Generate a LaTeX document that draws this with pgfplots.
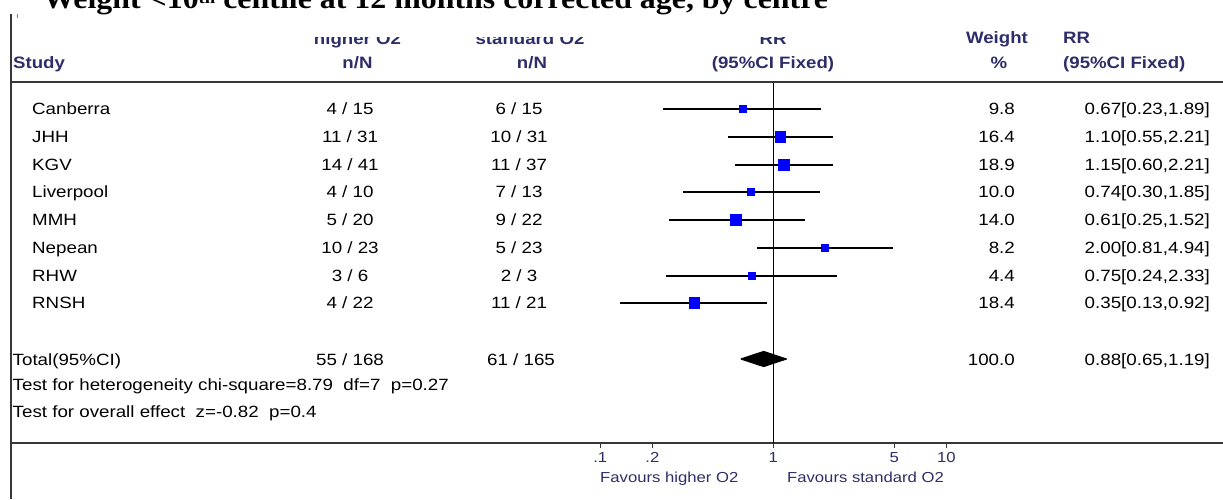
\documentclass[border=0pt]{standalone}
\usepackage{pgfplots}
\pgfplotsset{compat=1.18}
\usepackage{pgfplotstable}
\usepackage{fontspec}
\setmainfont{Liberation Sans}[FakeStretch=1.15]
\newfontfamily\hdrfont{Liberation Sans}[FakeStretch=1.13]
\newfontfamily\titlefont{Liberation Serif}[FakeStretch=1.1]
\definecolor{navy}{RGB}{45,45,105}
\definecolor{framegray}{RGB}{55,55,55}
\definecolor{boxblue}{RGB}{0,0,255}

% study estimates: y = 499 - pixel row
\pgfplotstableread{
name      lo    rr    hi    y    ms
Canberra  0.23  0.67  1.89  390  3.5
JHH       0.55  1.10  2.21  362  5.4
KGV       0.60  1.15  2.21  334  5.4
Liverpool 0.30  0.74  1.85  307  3.6
MMH       0.25  0.61  1.52  279  5.2
Nepean    0.81  2.00  4.94  251  3.4
RHW       0.24  0.75  2.33  223  3.4
RNSH      0.13  0.35  0.92  196  5.2
}\studydata

\pgfplotstableread{
x     y
0.23  390
1.89  390
nan   nan
0.55  362
2.21  362
nan   nan
0.60  334
2.21  334
nan   nan
0.30  307
1.85  307
nan   nan
0.25  279
1.52  279
nan   nan
0.81  251
4.94  251
nan   nan
0.24  223
2.33  223
nan   nan
0.13  196
0.92  196
}\cidata

\begin{document}
\begin{tikzpicture}[x=1pt,y=1pt]
\begin{axis}[
  at={(11pt,56pt)}, anchor=south west,
  scale only axis, width=1212pt, height=443pt,
  xmode=log, log basis x=10,
  xmin=3.924e-5, xmax=397.6,
  ymin=56, ymax=499,
  axis x line=bottom, axis y line=none,
  x axis line style={-, draw=framegray, line width=1.5pt},
  xtick={0.1,0.2,1,5,10}, xticklabels={.1,.2,1,5,10},
  xminorticks=false,
  tick align=outside, major tick length=5pt,
  x tick style={draw=framegray, line width=0.8pt},
  xticklabel style={font=\fontsize{14.5}{16}\selectfont, text=navy, anchor=base, yshift=-14pt, inner sep=0pt},
  clip=false,
]
% reference line at RR = 1
\addplot[black, line width=1.5pt] coordinates {(1,417) (1,56)};
% confidence intervals
\addplot[black, line width=1.8pt, unbounded coords=jump] table[x=x, y=y] {\cidata};
% point estimates
\addplot[scatter, only marks, mark=square*,
  scatter/use mapped color={draw=boxblue, fill=boxblue},
  visualization depends on={\thisrow{ms} \as \msz},
  scatter/@pre marker code/.append style={/tikz/mark size=\msz},
  mark options={line width=0pt}]
  table[x=rr, y=y] {\studydata};
% pooled estimate
\addplot[fill=black, draw=black, line width=1.2pt, line join=round] coordinates {(0.65,140) (0.88,147.5) (1.19,140) (0.88,132.5) (0.65,140)};
\end{axis}

% frame
\draw[framegray, line width=1.5pt] (11,0) -- (11,485);
\draw[gray, line width=0.8pt] (17,485) -- (17,481);
\draw[framegray, line width=2pt] (11,417) -- (1223,417);

% header
\begin{scope}[every node/.style={inner sep=0pt, text=navy, font=\hdrfont\bfseries\fontsize{16.5}{18}\selectfont}]
\node[anchor=base west] at (13,430) {Study};
\node[anchor=base] at (357.5,454) {higher O2};
\node[anchor=base] at (357.5,430) {n/N};
\node[anchor=base] at (530,454) {standard O2};
\node[anchor=base] at (532,430) {n/N};
\node[anchor=base] at (773,454) {RR};
\node[anchor=base] at (773,430) {(95\%CI Fixed)};
\node[anchor=base] at (997,455) {Weight};
\node[anchor=base] at (999,430) {\%};
\node[anchor=base west] at (1063,455) {RR};
\node[anchor=base west] at (1063,430) {(95\%CI Fixed)};
\end{scope}

% body rows
\begin{scope}[every node/.style={inner sep=0pt, font=\fontsize{16.3}{18}\selectfont}]
\foreach \n/\ea/\na/\eb/\nb/\w/\r/\yc in {
  Canberra/4/15/6/15/9.8/{0.67[0.23,1.89]}/390,
  JHH/11/31/10/31/16.4/{1.10[0.55,2.21]}/362,
  KGV/14/41/11/37/18.9/{1.15[0.60,2.21]}/334,
  Liverpool/4/10/7/13/10.0/{0.74[0.30,1.85]}/307,
  MMH/5/20/9/22/14.0/{0.61[0.25,1.52]}/279,
  Nepean/10/23/5/23/8.2/{2.00[0.81,4.94]}/251,
  RHW/3/6/2/3/4.4/{0.75[0.24,2.33]}/223,
  RNSH/4/22/11/21/18.4/{0.35[0.13,0.92]}/196}{
  \pgfmathsetmacro\yy{\yc-5.2}
  \node[anchor=base west] at (32,\yy) {\n};
  \node[anchor=base] at (350,\yy) {\ea{} / \na};
  \node[anchor=base] at (519,\yy) {\eb{} / \nb};
  \node[anchor=base east] at (1015,\yy) {\w};
  \node[anchor=base east] at (1210,\yy) {\r};
}
\node[anchor=base west] at (12.5,134) {Total(95\%CI)};
\node[anchor=base] at (350,134) {55 / 168};
\node[anchor=base] at (521,134) {61 / 165};
\node[anchor=base east] at (1015,134) {100.0};
\node[anchor=base east] at (1210,134) {0.88[0.65,1.19]};
\node[anchor=base west] at (12.5,109) {Test for heterogeneity chi-square=8.79\ \ df=7\ \ p=0.27};
\node[anchor=base west] at (12.5,82) {Test for overall effect\ \ z=-0.82\ \ p=0.4};
\end{scope}

% favours labels
\begin{scope}[every node/.style={inner sep=0pt, text=navy, font=\fontsize{14.5}{16}\selectfont}]
\node[anchor=base west] at (600,17) {Favours higher O2};
\node[anchor=base east] at (944,17) {Favours standard O2};
\end{scope}

% header area partly hidden under the title band
\fill[white] (290,462) rectangle (860,499);
% title
\node[anchor=base west, inner sep=0pt] at (43,490) {\titlefont\bfseries\fontsize{29}{31}\selectfont Weight <10\raisebox{5pt}{\fontsize{17}{17}\selectfont th} centile at 12 months corrected age, by centre};

\pgfresetboundingbox
\path[use as bounding box] (0,0) rectangle (1223,499);
\end{tikzpicture}
\end{document}
